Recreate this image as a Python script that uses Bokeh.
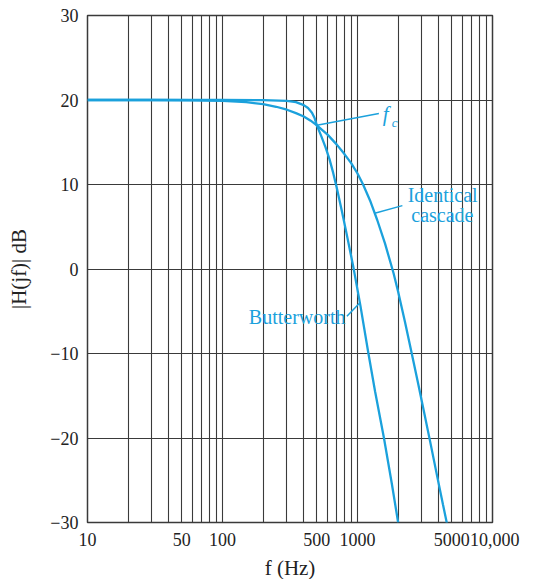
import numpy as np
from bokeh.plotting import figure
from bokeh.models import FixedTicker, Label, Range1d
from bokeh.embed import file_html
from bokeh.resources import INLINE

# ---- data ----
butterworth_f = [10, 50, 100, 200, 300, 350, 400, 430, 460, 480, 500, 540, 580, 620, 660,
                 700, 760, 820, 880, 940, 1050, 1205, 1350, 1570, 1800, 2000]
butterworth_db = [20.0, 20.0, 20.0, 19.98, 19.9, 19.75, 19.4, 19.05, 18.5, 17.9, 17.0, 15.7,
                  14.4, 13.0, 11.4, 9.7, 7.1, 4.6, 2.2, -0.1, -4.3, -10.0, -14.5, -20.0, -25.5, -30.0]

cascade_f = [10, 30, 60, 100, 150, 200, 250, 300, 350, 400, 450, 500, 600, 700, 800, 900,
             1000, 1100, 1250, 1400, 1600, 1850, 2000, 2250, 2500, 2800, 3100, 3450, 3900,
             4300, 4650]
cascade_db = [20.0, 20.0, 19.97, 19.9, 19.75, 19.5, 19.2, 18.85, 18.45, 18.05, 17.55, 17.0,
              15.9, 14.75, 13.6, 12.5, 11.3, 10.0, 7.95, 5.8, 3.0, -0.5, -2.7, -6.3, -9.7,
              -13.4, -16.8, -20.4, -24.6, -27.9, -30.5]

x_ticks = [10, 50, 100, 500, 1000, 5000, 10000]
x_tick_labels = ["10", "50", "100", "500", "1000", "5000", "\u00a010,000"]
y_ticks = [-30, -20, -10, 0, 10, 20, 30]
y_tick_labels = ["\u221230", "\u221220", "\u221210", "0", "10", "20", "30"]
grid_freqs = [m * 10 ** k for k in (1, 2, 3) for m in range(1, 10)] + [10000]
fc = 500

BLUE = "#1BA1DC"
GRID = "#3a3a3a"
FONT = "Liberation Serif"

p = figure(x_axis_type="log", x_range=Range1d(10, 10000), y_range=Range1d(-30, 30),
           frame_width=405, frame_height=507,
           min_border_left=87, min_border_right=44, min_border_top=15, min_border_bottom=55,
           output_backend="svg", toolbar_location=None,
           background_fill_color="white", border_fill_color="white")

# grid
p.xgrid.ticker = FixedTicker(ticks=grid_freqs)
p.ygrid.ticker = FixedTicker(ticks=y_ticks)
for g in (p.xgrid, p.ygrid):
    g.grid_line_color = GRID
    g.grid_line_width = 1.1
    g.grid_line_alpha = 1.0
p.outline_line_color = GRID
p.outline_line_width = 1.5
p.outline_line_alpha = 1.0

# axes
p.xaxis.ticker = FixedTicker(ticks=x_ticks)
p.xaxis.major_label_overrides = {t: l for t, l in zip(x_ticks, x_tick_labels)}
p.yaxis.ticker = FixedTicker(ticks=y_ticks)
p.yaxis.major_label_overrides = {t: l for t, l in zip(y_ticks, y_tick_labels)}
for ax in (p.xaxis, p.yaxis):
    ax.axis_line_color = None
    ax.major_tick_line_color = None
    ax.minor_tick_line_color = None
    ax.major_tick_in = 0
    ax.major_tick_out = 0
    ax.major_label_text_font = FONT
    ax.major_label_text_font_size = "18px"
    ax.major_label_text_color = "#222222"
    ax.axis_label_text_font = FONT
    ax.axis_label_text_font_size = "21px"
    ax.axis_label_text_font_style = "normal"
    ax.axis_label_text_color = "#222222"
p.xaxis.axis_label = "f (Hz)"
p.yaxis.axis_label = "|H(jf)| dB"
p.xaxis.major_label_standoff = 7
p.xaxis.axis_label_standoff = 3
p.yaxis.major_label_standoff = 9
p.yaxis.axis_label_standoff = 16

# curves
p.line(butterworth_f, butterworth_db, line_color=BLUE, line_width=2.3)
p.line(cascade_f, cascade_db, line_color=BLUE, line_width=2.3)


def f_at(db, fs, dbs):
    fs_r = np.log10(np.array(fs, dtype=float))[::-1]
    db_r = np.array(dbs, dtype=float)[::-1]
    return float(10 ** np.interp(db, db_r, fs_r))


# annotations
fc_db = float(np.interp(fc, cascade_f, cascade_db))
p.line([fc, 1440], [fc_db, 18.4], line_color=BLUE, line_width=1.5)
p.add_layout(Label(x=1540, y=18.3, text="f", text_font=FONT, text_font_style="italic",
                   text_font_size="21px", text_color=BLUE, text_align="left",
                   text_baseline="middle"))
p.add_layout(Label(x=1790, y=17.3, text="c", text_font=FONT, text_font_style="italic",
                   text_font_size="13px", text_color=BLUE, text_align="left",
                   text_baseline="middle"))

casc_lead_db = 6.6
p.line([f_at(casc_lead_db, cascade_f, cascade_db), 2150], [casc_lead_db, 7.5],
       line_color=BLUE, line_width=1.5)
p.add_layout(Label(x=4270, y=8.7, text="Identical", text_font=FONT, text_font_size="20px",
                   text_color=BLUE, text_align="center", text_baseline="middle"))
p.add_layout(Label(x=4250, y=6.4, text="cascade", text_font=FONT, text_font_size="20px",
                   text_color=BLUE, text_align="center", text_baseline="middle"))

bw_lead_db = -4.0
p.line([835, f_at(bw_lead_db, butterworth_f, butterworth_db)], [-5.6, bw_lead_db],
       line_color=BLUE, line_width=1.5)
p.add_layout(Label(x=815, y=-5.65, text="Butterworth", text_font=FONT, text_font_size="20px",
                   text_color=BLUE, text_align="right", text_baseline="middle"))

open("out.html", "w").write(file_html(p, INLINE))
